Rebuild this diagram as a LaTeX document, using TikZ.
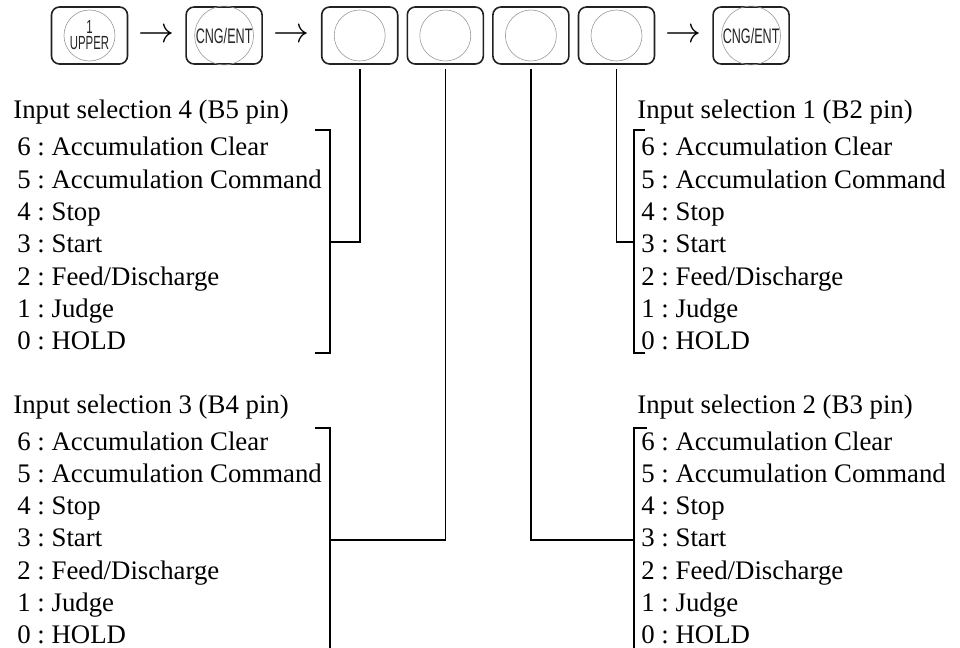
\documentclass[tikz,border=0pt]{standalone}
\usepackage{fontspec}
\setmainfont{Liberation Serif}
\newfontfamily\keyfont[FakeStretch=0.6]{Liberation Sans}
\usetikzlibrary{positioning,calc}
\definecolor{keyrim}{HTML}{222222}
\definecolor{facerim}{HTML}{9A9A9A}
\frenchspacing
\newcommand{\nextkey}{\scalebox{1.8}{$\rightarrow$}}
\tikzset{
  keybox/.style={draw=keyrim,line width=0.8pt,rounded corners=4pt,
    minimum width=38pt,minimum height=28.5pt,inner sep=0pt},
  keyface/.style={draw=facerim,line width=0.3pt,circle,minimum size=25.5pt,
    inner sep=0pt,align=center,text=black!85,font=\keyfont\fontsize{9.5}{8}\selectfont},
  keyword/.style={font=\keyfont\fontsize{10.5}{10}\selectfont},
  stepto/.style={inner sep=0pt},
  wire/.style={draw=black,line width=0.8pt},
  pinlist/.style={anchor=north west,inner sep=0pt,align=left,
    font=\fontsize{13.4}{16.15}\selectfont}
}
\begin{document}
\begin{tikzpicture}[x=0.5pt,y=-0.5pt,node distance=28.5pt]
  \useasboundingbox (0,0) rectangle (960,648);
  % key sequence
  \node[keybox] (k1) at (89.5,35.5) {};
  \node[keybox,right=of k1] (k2) {};
  \node[keybox,right=29pt of k2] (k3) {};
  \node[keybox,right=4pt of k3] (k4) {};
  \node[keybox,right=4pt of k4] (k5) {};
  \node[keybox,right=4pt of k5] (k6) {};
  \node[keybox,right=of k6] (k7) {};
  \node[keyface] (c1) at (k1) {1\\UPPER};
  \node[keyface,keyword] (c2) at (k2) {CNG/ENT};
  \node[keyface] (c3) at (k3) {};
  \node[keyface] (c4) at (k4) {};
  \node[keyface] (c5) at (k5) {};
  \node[keyface] (c6) at (k6) {};
  \node[keyface,keyword] (c7) at (k7) {CNG/ENT};
  \node[stepto] (a1) at ($(k1.east)!0.5!(k2.west)$) {\nextkey};
  \node[stepto] (a2) at ($(k2.east)!0.5!(k3.west)$) {\nextkey};
  \node[stepto] (a3) at ($(k6.east)!0.5!(k7.west)$) {\nextkey};

  % input selection lists
  \node[pinlist] (sel4) at (13,100) {Input selection 4 (B5 pin)\\[2.35pt]
    \hspace{2pt}6 : Accumulation Clear\\
    \hspace{2pt}5 : Accumulation Command\\
    \hspace{2pt}4 : Stop\\
    \hspace{2pt}3 : Start\\
    \hspace{2pt}2 : Feed/Discharge\\
    \hspace{2pt}1 : Judge\\
    \hspace{2pt}0 : HOLD};
  \node[pinlist] (sel1) at (637,100) {Input selection 1 (B2 pin)\\[2.35pt]
    \hspace{2pt}6 : Accumulation Clear\\
    \hspace{2pt}5 : Accumulation Command\\
    \hspace{2pt}4 : Stop\\
    \hspace{2pt}3 : Start\\
    \hspace{2pt}2 : Feed/Discharge\\
    \hspace{2pt}1 : Judge\\
    \hspace{2pt}0 : HOLD};
  \node[pinlist] (sel3) at (13,394) {Input selection 3 (B4 pin)\\[2.35pt]
    \hspace{2pt}6 : Accumulation Clear\\
    \hspace{2pt}5 : Accumulation Command\\
    \hspace{2pt}4 : Stop\\
    \hspace{2pt}3 : Start\\
    \hspace{2pt}2 : Feed/Discharge\\
    \hspace{2pt}1 : Judge\\
    \hspace{2pt}0 : HOLD};
  \node[pinlist] (sel2) at (637,394) {Input selection 2 (B3 pin)\\[2.35pt]
    \hspace{2pt}6 : Accumulation Clear\\
    \hspace{2pt}5 : Accumulation Command\\
    \hspace{2pt}4 : Stop\\
    \hspace{2pt}3 : Start\\
    \hspace{2pt}2 : Feed/Discharge\\
    \hspace{2pt}1 : Judge\\
    \hspace{2pt}0 : HOLD};

  % brackets
  \draw[wire] (315,130) -- (330,130) -- (330,353) -- (315,353);
  \draw[wire] (645,130) -- (634,130) -- (634,353) -- (645,353);
  \draw[wire] (315,428) -- (330,428) -- (330,648);
  \draw[wire] (647,428) -- (634,428) -- (634,648);
  \coordinate (j4) at (330,242);
  \coordinate (j1) at (634,242);
  \coordinate (j3) at (330,540);
  \coordinate (j2) at (634,540);

  % digit connectors
  \draw[wire] ([yshift=-2pt]k3.south) |- (j4);
  \draw[wire] ([yshift=-2pt]k4.south) |- (j3);
  \draw[wire] ([yshift=-2pt]k5.south) |- (j2);
  \draw[wire] ([yshift=-2pt]k6.south) |- (j1);
\end{tikzpicture}
\end{document}
